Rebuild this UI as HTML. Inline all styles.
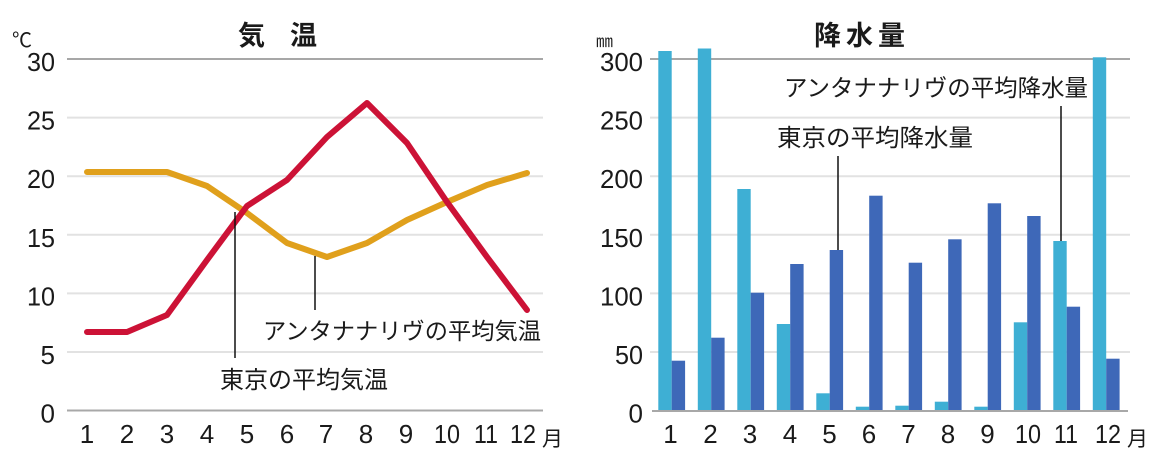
<!DOCTYPE html>
<html>
<head>
<meta charset="utf-8">
<style>
  html, body { margin: 0; padding: 0; background: #ffffff; }
  svg { display: block; }
  .num { font-family: "Liberation Sans", sans-serif; font-size: 26px; fill: #1a1a1a; }
  .jp { font-family: "Liberation Sans", "Noto Sans CJK JP", sans-serif; fill: #1a1a1a; }
</style>
</head>
<body>
<svg width="1161" height="467" viewBox="0 0 1161 467" xmlns="http://www.w3.org/2000/svg">
  <rect x="0" y="0" width="1161" height="467" fill="#ffffff"/>

  <!-- ================= LEFT CHART: 気温 ================= -->
  <g stroke="#e2e2e2" stroke-width="2">
    <line x1="67" y1="117.6" x2="543" y2="117.6"/>
    <line x1="67" y1="176.2" x2="543" y2="176.2"/>
    <line x1="67" y1="234.8" x2="543" y2="234.8"/>
    <line x1="67" y1="293.4" x2="543" y2="293.4"/>
    <line x1="67" y1="352" x2="543" y2="352"/>
  </g>
  <line x1="67" y1="59" x2="543" y2="59" stroke="#8a8a8a" stroke-width="1.5"/>
  <line x1="67" y1="410.5" x2="543" y2="410.5" stroke="#a8a8a8" stroke-width="2"/>

  <g class="num" text-anchor="end">
    <text x="55" y="71" textLength="28" lengthAdjust="spacingAndGlyphs">30</text>
    <text x="55" y="129.6" textLength="28" lengthAdjust="spacingAndGlyphs">25</text>
    <text x="55" y="188.2" textLength="28" lengthAdjust="spacingAndGlyphs">20</text>
    <text x="55" y="246.8" textLength="28" lengthAdjust="spacingAndGlyphs">15</text>
    <text x="55" y="305.4" textLength="28" lengthAdjust="spacingAndGlyphs">10</text>
    <text x="55" y="364">5</text>
    <text x="55" y="422.5">0</text>
  </g>
  <text class="jp" x="12" y="47" font-size="20">℃</text>

  <text class="jp" x="238" y="45" font-size="27" font-weight="bold">気</text>
  <text class="jp" x="290" y="45" font-size="27" font-weight="bold">温</text>

  <g class="num" text-anchor="middle">
    <text x="87" y="443">1</text>
    <text x="127" y="443">2</text>
    <text x="167" y="443">3</text>
    <text x="207" y="443">4</text>
    <text x="247" y="443">5</text>
    <text x="287" y="443">6</text>
    <text x="326" y="443">7</text>
    <text x="366" y="443">8</text>
    <text x="406" y="443">9</text>
    <text x="447" y="443" textLength="26" lengthAdjust="spacingAndGlyphs">10</text>
    <text x="486" y="443" textLength="24" lengthAdjust="spacingAndGlyphs">11</text>
    <text x="523" y="443" textLength="26" lengthAdjust="spacingAndGlyphs">12</text>
  </g>
  <text class="jp" x="542" y="446" font-size="21">月</text>

  <polyline fill="none" stroke="#e0a01c" stroke-width="6" stroke-linejoin="round" stroke-linecap="round"
    points="87,172 127,172 167,172 207,186 247,213 287,243 327,257 367,243 407,220 447,202 487,185 527,173"/>
  <polyline fill="none" stroke="#cc1236" stroke-width="6" stroke-linejoin="round" stroke-linecap="round"
    points="87,332 127,332 167,315 207,260 247,206 287,180 327,137 367,103 407,143 447,202 487,257 527,310"/>

  <line x1="235" y1="212" x2="235" y2="358" stroke="#111" stroke-width="1.5"/>
  <line x1="315" y1="256" x2="315" y2="310" stroke="#111" stroke-width="1.5"/>

  <text class="jp" x="263" y="339" font-size="23" textLength="278" lengthAdjust="spacingAndGlyphs">アンタナナリヴの平均気温</text>
  <text class="jp" x="220" y="388" font-size="24" textLength="168" lengthAdjust="spacingAndGlyphs">東京の平均気温</text>

  <!-- ================= RIGHT CHART: 降水量 ================= -->
  <g stroke="#e2e2e2" stroke-width="2">
    <line x1="650" y1="117.6" x2="1130" y2="117.6"/>
    <line x1="650" y1="176.2" x2="1130" y2="176.2"/>
    <line x1="650" y1="234.8" x2="1130" y2="234.8"/>
    <line x1="650" y1="293.4" x2="1130" y2="293.4"/>
    <line x1="650" y1="352" x2="1130" y2="352"/>
  </g>
  <line x1="650" y1="59" x2="1130" y2="59" stroke="#8a8a8a" stroke-width="1.5"/>

  <g fill="#3eafd4">
    <rect x="658.3" y="51" width="13.4" height="360"/>
    <rect x="697.8" y="48.5" width="13.4" height="362.5"/>
    <rect x="737.3" y="189" width="13.4" height="222"/>
    <rect x="776.8" y="324" width="13.4" height="87"/>
    <rect x="816.3" y="393.3" width="13.4" height="17.7"/>
    <rect x="855.8" y="406.7" width="13.4" height="4.3"/>
    <rect x="895.3" y="405.7" width="13.4" height="5.3"/>
    <rect x="934.8" y="401.7" width="13.4" height="9.3"/>
    <rect x="974.3" y="406.7" width="13.4" height="4.3"/>
    <rect x="1013.8" y="322.3" width="13.4" height="88.7"/>
    <rect x="1053.3" y="241" width="13.4" height="170"/>
    <rect x="1092.8" y="57.3" width="13.4" height="353.7"/>
  </g>
  <g fill="#3e68b8">
    <rect x="671.7" y="360.7" width="13.4" height="50.3"/>
    <rect x="711.2" y="337.7" width="13.4" height="73.3"/>
    <rect x="750.7" y="292.7" width="13.4" height="118.3"/>
    <rect x="790.2" y="264" width="13.4" height="147"/>
    <rect x="829.7" y="250" width="13.4" height="161"/>
    <rect x="869.2" y="195.7" width="13.4" height="215.3"/>
    <rect x="908.7" y="262.7" width="13.4" height="148.3"/>
    <rect x="948.2" y="239.3" width="13.4" height="171.7"/>
    <rect x="987.7" y="203.3" width="13.4" height="207.7"/>
    <rect x="1027.2" y="216" width="13.4" height="195"/>
    <rect x="1066.7" y="306.7" width="13.4" height="104.3"/>
    <rect x="1106.2" y="358.7" width="13.4" height="52.3"/>
  </g>
  <line x1="652" y1="411" x2="1128" y2="411" stroke="#a8a8a8" stroke-width="2"/>

  <g class="num" text-anchor="end">
    <text x="643" y="71" textLength="43" lengthAdjust="spacingAndGlyphs">300</text>
    <text x="643" y="129.6" textLength="43" lengthAdjust="spacingAndGlyphs">250</text>
    <text x="643" y="188.2" textLength="43" lengthAdjust="spacingAndGlyphs">200</text>
    <text x="643" y="246.8" textLength="43" lengthAdjust="spacingAndGlyphs">150</text>
    <text x="643" y="305.4" textLength="43" lengthAdjust="spacingAndGlyphs">100</text>
    <text x="643" y="364" textLength="28" lengthAdjust="spacingAndGlyphs">50</text>
    <text x="643" y="422.5">0</text>
  </g>
  <text class="jp" x="596" y="47" font-size="17">㎜</text>

  <text class="jp" x="814" y="45" font-size="27" font-weight="bold">降</text>
  <text class="jp" x="846" y="45" font-size="27" font-weight="bold">水</text>
  <text class="jp" x="878" y="45" font-size="27" font-weight="bold">量</text>

  <g class="num" text-anchor="middle">
    <text x="670.5" y="443">1</text>
    <text x="710.5" y="443">2</text>
    <text x="750" y="443">3</text>
    <text x="790" y="443">4</text>
    <text x="829.5" y="443">5</text>
    <text x="869" y="443">6</text>
    <text x="908.5" y="443">7</text>
    <text x="948" y="443">8</text>
    <text x="987.5" y="443">9</text>
    <text x="1028" y="443" textLength="26" lengthAdjust="spacingAndGlyphs">10</text>
    <text x="1066" y="443" textLength="24" lengthAdjust="spacingAndGlyphs">11</text>
    <text x="1108" y="443" textLength="26" lengthAdjust="spacingAndGlyphs">12</text>
  </g>
  <text class="jp" x="1127" y="446" font-size="21">月</text>

  <line x1="838" y1="156" x2="838" y2="250" stroke="#111" stroke-width="1.5"/>
  <line x1="1061" y1="106" x2="1061" y2="241" stroke="#111" stroke-width="1.5"/>

  <text class="jp" x="784" y="96" font-size="23.5" textLength="304" lengthAdjust="spacingAndGlyphs">アンタナナリヴの平均降水量</text>
  <text class="jp" x="777" y="146" font-size="24" textLength="196" lengthAdjust="spacingAndGlyphs">東京の平均降水量</text>
</svg>
</body>
</html>
